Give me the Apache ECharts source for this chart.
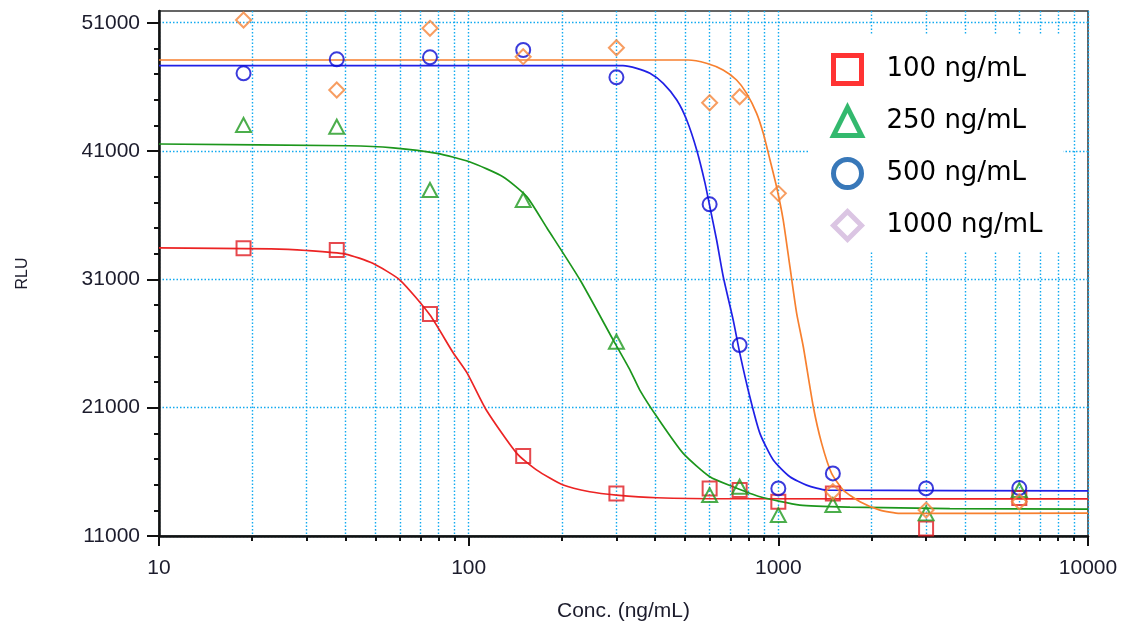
<!DOCTYPE html>
<html><head><meta charset="utf-8">
<script src="https://cdn.jsdelivr.net/npm/echarts@6/dist/echarts.min.js"></script>
<style>html,body{margin:0;padding:0;background:#fff}#c{width:1121px;height:623px}</style>
</head><body><div id="c"></div>
<script>
// Sample concentrations (ng/mL) on the x axis
const conc = [18.75, 37.5, 75, 150, 300, 600, 750, 1000, 1500, 3000, 6000];
// Measured RLU points per series
const pts100 = [33417, 33284, 28296, 17229, 14321, 14711, 14579, 13667, 14321, 11594, 13955];
const pts250 = [43027, 42894, 37961, 37181, 26137, 14189, 14836, 12630, 13410, 12763, 14579];
const pts500 = [47056, 48147, 48303, 48872, 46744, 36846, 25880, 14711, 15880, 14711, 14734];
const pts1000 = [51210, 45755, 50564, 48350, 49051, 44765, 45232, 37703, 14446, 13020, 13667];

// Fitted curves
const fit100X = [10, 23, 30, 40, 49, 60, 75, 89, 99, 114, 143, 166, 202, 246, 300, 405, 700, 10000];
const fit100Y = [33450, 33380, 33250, 32972, 32248, 30946, 28218, 25300, 23674, 20814, 17439, 16137, 14968, 14446, 14189, 13980, 13901, 13900];
const fit250X = [10, 41, 57, 79, 101, 129, 154, 179, 229, 293, 332, 357, 408, 493, 601, 714, 872, 1174, 1703, 3580, 10000];
const fit250Y = [41546, 41413, 41250, 40821, 40143, 38997, 37449, 35000, 30946, 26270, 23931, 22373, 20190, 17439, 15615, 14836, 14056, 13410, 13254, 13137, 13098];
const fit500X = [10, 315, 349, 385, 425, 470, 506, 545, 580, 601, 632, 664, 715, 751, 809, 872, 963, 1090, 1233, 1432, 10000];
const fit500Y = [47649, 47649, 47446, 47056, 46277, 44975, 43416, 41078, 38483, 36659, 34064, 31203, 27828, 25233, 21850, 18998, 16917, 15615, 14968, 14579, 14524];
const fit1000X = [10, 511, 586, 663, 733, 790, 851, 894, 940, 987, 1037, 1090, 1146, 1204, 1297, 1380, 1486, 1621, 1835, 2128, 2470, 10000];
const fit1000Y = [48093, 48093, 47836, 47313, 46534, 45497, 43939, 42380, 40299, 38218, 35622, 31983, 28351, 25747, 21071, 18218, 15880, 14579, 13667, 13020, 12763, 12780];

// Axis ticks
const xMajor = [10, 100, 1000, 10000];
const xMinor = [20, 30, 40, 50, 60, 70, 80, 90, 200, 300, 400, 500, 600, 700, 800, 900, 2000, 3000, 4000, 5000, 6000, 7000, 8000, 9000];
const yMajor = [11000, 21000, 31000, 41000, 51000];
const yMinor = [13000, 15000, 17000, 19000, 23000, 25000, 27000, 29000, 33000, 35000, 37000, 39000, 43000, 45000, 47000, 49000];

const names = ['100 ng/mL', '250 ng/mL', '500 ng/mL', '1000 ng/mL'];

function pairs(xs, ys) { return xs.map((x, i) => [x, ys[i]]); }

const gridLine = { show: true, lineStyle: { color: '#12aaf0', type: [1.5, 2], width: 1.4 } };
const labelFont = { fontSize: 21, color: '#1c1c2c', fontFamily: 'Liberation Sans, Arial, sans-serif' };

function scatter(name, ys, symbol, size, color) {
  return { name, type: 'scatter', data: pairs(conc, ys), symbol, symbolSize: size, z: 5,
    itemStyle: { color: 'rgba(0,0,0,0)', borderColor: color, borderWidth: 2 } };
}
function curve(xs, ys, color) {
  return { type: 'line', data: pairs(xs, ys), symbol: 'none', showSymbol: false, smooth: 0.2,
    z: 3, silent: true, lineStyle: { color, width: 1.7 } };
}

const chart = echarts.init(document.getElementById('c'), null, { renderer: 'canvas' });
chart.setOption({
  animation: false,
  backgroundColor: '#fff',
  grid: { left: 159, right: 33, top: 11, bottom: 87, show: true, borderColor: '#333', borderWidth: 1.5,
    backgroundColor: '#fff', containLabel: false, outerBoundsMode: 'none' },
  legend: {
    orient: 'vertical', left: 808, top: 35, padding: [18, 21, 10, 23],
    backgroundColor: '#fff', itemWidth: 28, itemHeight: 28, itemGap: 19,
    textStyle: { fontSize: 26, color: '#000', fontFamily: 'DejaVu Sans', padding: [0, 0, 0, 20] },
    data: [
      { name: names[0], icon: 'rect', itemStyle: { color: '#fff', borderColor: '#ff0000', borderWidth: 5 } },
      { name: names[1], icon: 'triangle', itemStyle: { color: '#fff', borderColor: '#00a84a', borderWidth: 5 } },
      { name: names[2], icon: 'circle', itemStyle: { color: '#fff', borderColor: '#0656a8', borderWidth: 5 } },
      { name: names[3], icon: 'diamond', itemStyle: { color: '#fff', borderColor: '#d2b6dc', borderWidth: 5 } }
    ],
    selectedMode: false, z: 10
  },
  xAxis: [
    { type: 'log', logBase: 10, min: 10, max: 10000, position: 'bottom',
      axisLine: { show: true, lineStyle: { color: '#111', width: 2.5 } },
      axisTick: { show: true, length: 10, customValues: xMajor, lineStyle: { color: '#111', width: 2 } },
      axisLabel: Object.assign({ margin: 22, customValues: xMajor, formatter: v => String(Math.round(v)) }, labelFont),
      splitLine: gridLine,
      name: 'Conc. (ng/mL)', nameLocation: 'middle', nameGap: 65,
      nameTextStyle: { fontSize: 21, color: '#1c1c2c', fontFamily: 'Liberation Sans, Arial, sans-serif' } },
    { type: 'log', logBase: 10, min: 10, max: 10000, position: 'bottom',
      axisLine: { show: false }, axisLabel: { show: false },
      axisTick: { show: true, length: 5, customValues: xMinor, lineStyle: { color: '#111', width: 2 } },
      splitLine: gridLine }
  ],
  yAxis: [
    { type: 'value', min: 11000, max: 51912, position: 'left',
      axisLine: { show: true, lineStyle: { color: '#111', width: 2.5 } },
      axisTick: { show: true, length: 12, customValues: yMajor, lineStyle: { color: '#111', width: 2 } },
      axisLabel: Object.assign({ margin: 19, customValues: yMajor, formatter: v => String(Math.round(v)) }, labelFont),
      splitLine: gridLine,
      name: 'RLU', nameLocation: 'middle', nameGap: 128, nameRotate: 90,
      nameTextStyle: { fontSize: 16, color: '#1c1c2c', fontFamily: 'Liberation Sans, Arial, sans-serif' } },
    { type: 'value', min: 11000, max: 51912, position: 'left',
      axisLine: { show: false }, axisLabel: { show: false }, splitLine: { show: false },
      axisTick: { show: true, length: 5, customValues: yMinor, lineStyle: { color: '#111', width: 2 } } }
  ],
  series: [
    curve(fit100X, fit100Y, '#ec2424'),
    curve(fit250X, fit250Y, '#1c961c'),
    curve(fit500X, fit500Y, '#2020e6'),
    curve(fit1000X, fit1000Y, '#f7802f'),
    scatter(names[0], pts100, 'rect', 14, '#e01c22'),
    scatter(names[1], pts250, 'triangle', [15, 14], '#1f9a1f'),
    scatter(names[2], pts500, 'circle', 14, '#0a0ad2'),
    scatter(names[3], pts1000, 'diamond', 15, '#f5843a')
  ]
});
</script></body></html>
